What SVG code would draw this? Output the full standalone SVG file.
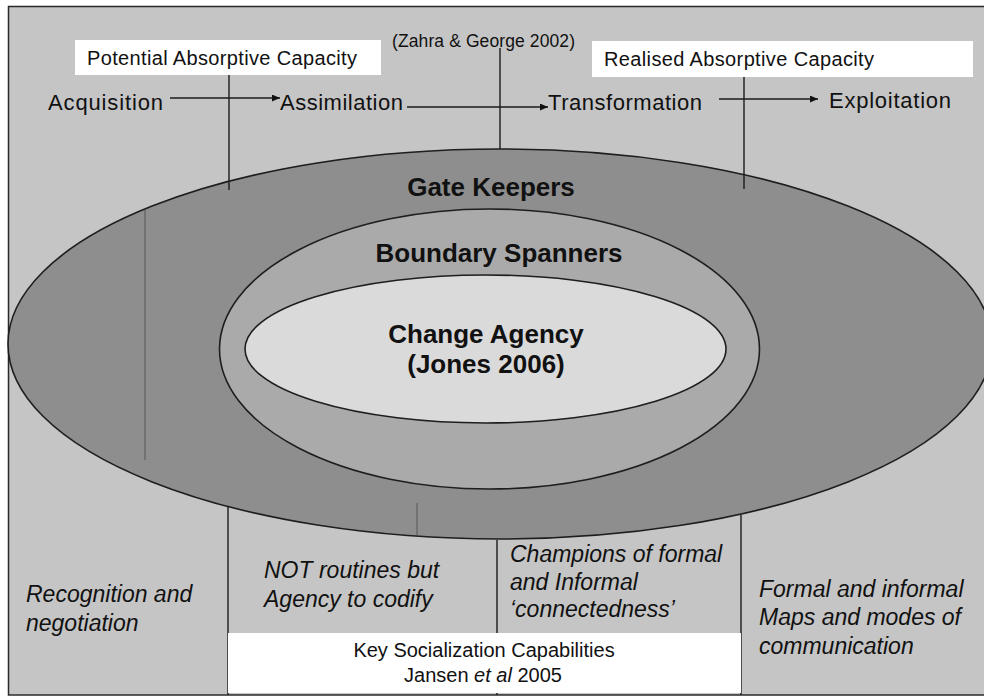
<svg xmlns="http://www.w3.org/2000/svg" width="984" height="700" viewBox="0 0 984 700">
<defs>
<style>
text{font-family:"Liberation Sans",Arial,sans-serif;fill:#111}
.lbl{font-size:22px}
.box{fill:#ffffff;stroke:none}
.ring{stroke:#1e1e1e;stroke-width:1.6}
.bold{font-size:26px;font-weight:bold;text-anchor:middle}
.it{font-size:23px;font-style:italic}
.ln{stroke:#1a1a1a;stroke-width:1.4;fill:none}
.faint{stroke:#4a4a4a;stroke-width:1.2;fill:none;opacity:0.7}
</style>
<marker id="ah" markerUnits="userSpaceOnUse" markerWidth="9" markerHeight="8" refX="8" refY="3.5" orient="auto">
<path d="M0,0 L8,3.5 L0,7 z" fill="#111"/>
</marker>
</defs>
<rect x="0" y="0" width="984" height="700" fill="#ffffff"/>
<rect x="8.5" y="6.5" width="985" height="688.5" fill="#c5c5c5" stroke="#2a2a2a" stroke-width="1.5"/>

<g id="gate-keepers">
<ellipse class="ring" cx="500" cy="344" rx="492" ry="195" fill="#8e8e8e"/>
<text class="bold" x="491" y="196">Gate Keepers</text>
</g>
<g id="boundary-spanners">
<ellipse class="ring" cx="489.5" cy="349" rx="270" ry="140" fill="#aaaaaa"/>
<text class="bold" x="499" y="262">Boundary Spanners</text>
</g>
<g id="change-agency">
<ellipse class="ring" cx="485.5" cy="349" rx="240.5" ry="74" fill="#dadada"/>
<text class="bold" x="486" y="343">Change Agency</text>
<text class="bold" x="486" y="373">(Jones 2006)</text>
</g>

<g id="connectors">
<line class="ln" x1="170" y1="98" x2="280" y2="98" marker-end="url(#ah)"/>
<line class="ln" x1="407" y1="107" x2="548" y2="107" marker-end="url(#ah)"/>
<line class="ln" x1="719" y1="99" x2="818" y2="99" marker-end="url(#ah)"/>
<line class="ln" x1="229" y1="75" x2="229" y2="190"/>
<line class="ln" x1="500" y1="48" x2="500" y2="149"/>
<line class="ln" x1="744" y1="77" x2="744" y2="189"/>
<line class="ln" x1="228" y1="507" x2="228" y2="695"/>
<line class="ln" x1="497" y1="540" x2="497" y2="695"/>
<line class="ln" x1="741" y1="515" x2="741" y2="695"/>
<line class="faint" x1="145" y1="210" x2="145" y2="460"/>
<line class="faint" x1="417" y1="503" x2="417" y2="535"/>
</g>

<g id="potential-acap">
<rect class="box" x="75" y="40" width="306" height="35"/>
<text x="87" y="65" font-size="20" textLength="270">Potential Absorptive Capacity</text>
</g>
<g id="realised-acap">
<rect class="box" x="592" y="41" width="381" height="36"/>
<text x="604" y="66" font-size="20" textLength="270">Realised Absorptive Capacity</text>
</g>
<g id="zahra">
<text x="392" y="47" font-size="17.5" textLength="183">(Zahra &amp; George 2002)</text>
</g>
<g id="acquisition"><text class="lbl" x="48" y="110" textLength="115">Acquisition</text></g>
<g id="assimilation"><text class="lbl" x="280" y="110" textLength="123">Assimilation</text></g>
<g id="transformation"><text class="lbl" x="548" y="110" textLength="154">Transformation</text></g>
<g id="exploitation"><text class="lbl" x="829" y="108" textLength="122">Exploitation</text></g>

<g id="recognition">
<text class="it" x="26" y="602">Recognition and</text>
<text class="it" x="26" y="631">negotiation</text>
</g>
<g id="not-routines">
<text class="it" x="264" y="578">NOT routines but</text>
<text class="it" x="264" y="607">Agency to codify</text>
</g>
<g id="champions">
<text class="it" x="510" y="562">Champions of formal</text>
<text class="it" x="510" y="590">and Informal</text>
<text class="it" x="510" y="617">‘connectedness’</text>
</g>
<g id="maps">
<text class="it" x="759" y="597">Formal and informal</text>
<text class="it" x="759" y="625">Maps and modes of</text>
<text class="it" x="759" y="654">communication</text>
</g>
<g id="socialization">
<rect class="box" x="228" y="633" width="513" height="60"/>
<text x="484" y="657" font-size="20" text-anchor="middle">Key Socialization Capabilities</text>
<text x="483" y="682" font-size="20" text-anchor="middle">Jansen <tspan font-style="italic">et al</tspan> 2005</text>
</g>
</svg>
